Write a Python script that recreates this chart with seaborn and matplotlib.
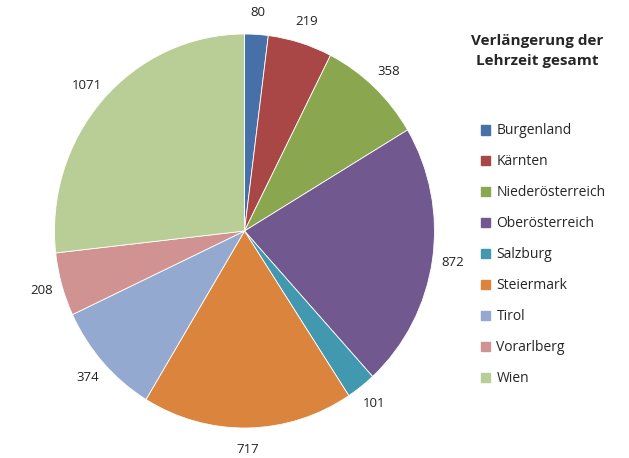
import matplotlib
matplotlib.use('Agg')
import matplotlib.pyplot as plt
import matplotlib.patches as mpatches
import seaborn as sns

laender = ['Burgenland', 'Kärnten', 'Niederösterreich', 'Oberösterreich', 'Salzburg',
           'Steiermark', 'Tirol', 'Vorarlberg', 'Wien']
werte = [80, 219, 358, 872, 101, 717, 374, 208, 1071]
farben = ['#4571A8', '#A84745', '#8AA64F', '#71588F', '#4198AF',
          '#DB843D', '#93A9CF', '#D19392', '#B9CD96']
titel = 'Verlängerung der\nLehrzeit gesamt'

sns.set_style('white')
plt.rcParams['font.family'] = ['Open Sans', 'DejaVu Sans']
pal = sns.color_palette(farben)

fig = plt.figure(figsize=(6.29, 4.58), dpi=100)
cx, cy, rx, ry = 244.5, 231, 190, 197
ax = fig.add_axes([(cx - rx) / 629, (458 - cy - ry) / 458, 2 * rx / 629, 2 * ry / 458])

wedges, texts = ax.pie(werte, labels=[str(v) for v in werte], colors=pal,
                       startangle=90, counterclock=False, labeldistance=1.11,
                       wedgeprops=dict(edgecolor='white', linewidth=0.6),
                       textprops=dict(fontsize=9.5, color='#222222'))
for t in texts:
    t.set_ha('center')
    t.set_va('center')
ax.set_xlim(-1, 1)
ax.set_ylim(-1, 1)
ax.set_aspect('auto')
ax.axis('off')

fig.text(537 / 629, 1 - 51 / 458, titel, ha='center', va='center',
         fontsize=11, fontweight='bold', linespacing=1.6)

handles = [mpatches.Patch(color=c, label=l) for c, l in zip(pal, laender)]
fig.legend(handles=handles, loc='upper left', bbox_to_anchor=(468 / 629, 1 - 111 / 458),
           frameon=False, fontsize=10, labelspacing=1.15, handlelength=0.7,
           handleheight=0.7, handletextpad=0.45)

fig.savefig('out.png', dpi=100)
